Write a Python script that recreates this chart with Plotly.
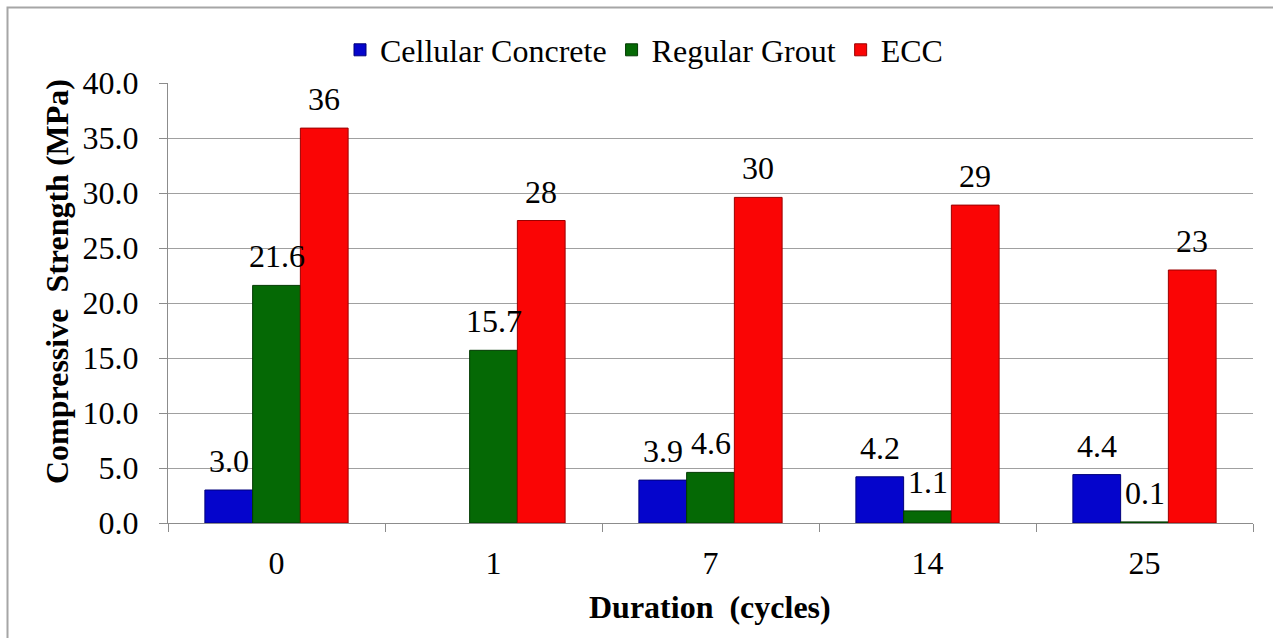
import plotly.graph_objects as go

# Freeze-thaw test results: compressive strength (MPa) by number of cycles
cycles = ["0", "1", "7", "14", "25"]
cellular_concrete = [3.0, None, 3.9, 4.2, 4.4]
regular_grout = [21.6, 15.7, 4.6, 1.1, 0.1]
ecc = [35.9, 27.5, 29.6, 28.9, 23.0]

y_ticks = [0, 5, 10, 15, 20, 25, 30, 35, 40]

FONT = "Liberation Serif"
FS = 32
W, H = 1273, 638
M_L, M_R, M_T, M_B = 168, 20, 83, 115
PW, PH = W - M_L - M_R, H - M_T - M_B


def px_to_paper_x(px):
    return (px - M_L) / PW


def px_to_paper_y(py):
    return (H - M_B - py) / PH


series = [
    ("Cellular Concrete", cellular_concrete, "#0505CC", "#00007A", ".1f"),
    ("Regular Grout", regular_grout, "#056905", "#023A02", ".1f"),
    ("ECC", ecc, "#FA0505", "#9A0000", ".0f"),
]

fig = go.Figure()
for name, vals, color, edge, _ in series:
    fig.add_trace(go.Bar(
        name=name, x=cycles, y=vals,
        marker=dict(color=color, line=dict(color=edge, width=1)),
    ))

# value labels above each bar
annotations = []
bar_w = 0.22
for k, (name, vals, _, _, fmt) in enumerate(series):
    off = (k - 1) * bar_w
    for i, v in enumerate(vals):
        if v is None:
            continue
        annotations.append(dict(
            x=i + off, y=v, xref="x", yref="y",
            text=format(v, fmt), showarrow=False,
            yanchor="middle", yshift=29,
            font=dict(family=FONT, size=FS, color="black"),
        ))

# axis titles
annotations.append(dict(
    x=px_to_paper_x(57), y=px_to_paper_y(282), xref="paper", yref="paper",
    text="<b>Compressive&nbsp; Strength (MPa)</b>", textangle=-90,
    showarrow=False, xanchor="center", yanchor="middle",
    font=dict(family=FONT, size=FS, color="black"),
))
annotations.append(dict(
    x=px_to_paper_x(710), y=px_to_paper_y(607), xref="paper", yref="paper",
    text="<b>Duration&nbsp; (cycles)</b>",
    showarrow=False, xanchor="center", yanchor="middle",
    font=dict(family=FONT, size=FS, color="black"),
))

fig.update_layout(
    width=W, height=H,
    margin=dict(l=M_L, r=M_R, t=M_T, b=M_B),
    paper_bgcolor="white", plot_bgcolor="white",
    barmode="group", bargap=0.34, bargroupgap=0,
    font=dict(family=FONT, size=FS, color="black"),
    showlegend=True,
    legend=dict(
        orientation="h", x=px_to_paper_x(644), y=px_to_paper_y(50),
        xanchor="center", yanchor="middle",
        font=dict(family=FONT, size=FS, color="black"),
        itemwidth=30, bgcolor="rgba(0,0,0,0)",
    ),
    annotations=annotations,
    shapes=[dict(
        type="rect", xref="paper", yref="paper",
        x0=px_to_paper_x(7.5), y0=px_to_paper_y(660),
        x1=px_to_paper_x(1290), y1=px_to_paper_y(7.5),
        line=dict(color="#A6A6A6", width=2), fillcolor="rgba(0,0,0,0)",
        layer="below",
    )],
)

fig.update_xaxes(
    type="category", showline=True, linecolor="#8C8C8C", linewidth=1,
    ticks="outside", tickson="boundaries", ticklen=8, tickcolor="#8C8C8C",
    showgrid=False, ticklabelstandoff=12,
    tickfont=dict(family=FONT, size=FS, color="black"),
)
fig.update_yaxes(
    range=[0, 40], tickvals=y_ticks, tickformat=".1f",
    showline=True, linecolor="#8C8C8C", linewidth=1,
    ticks="outside", ticklen=8, tickcolor="#8C8C8C",
    showgrid=True, gridcolor="#A0A0A0", gridwidth=1, zeroline=False,
    ticklabelstandoff=14,
    tickfont=dict(family=FONT, size=FS, color="black"),
)

fig.write_html("out.html")
